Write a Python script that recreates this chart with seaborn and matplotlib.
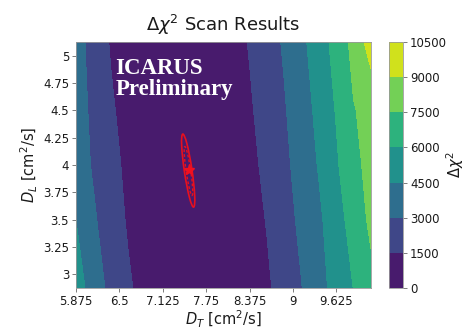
import numpy as np
import pandas as pd
import matplotlib
matplotlib.use("Agg")
import matplotlib.pyplot as plt
from matplotlib.patches import Ellipse
import seaborn as sns

# ---- data ----
dt_grid = [5.875, 6.125, 6.375, 6.625, 6.875, 7.125, 7.375, 7.625, 7.875,
           8.125, 8.375, 8.625, 8.875, 9.125, 9.375, 9.625, 9.875, 10.125]
dl_grid = [2.875, 3.5, 4.0, 4.5, 5.125]

chi2_dl_2875 = [5250, 3799, 2597, 1698, 978, 471, 147, 7, 49, 274, 682, 1272, 2092, 2962, 3996, 5019, 6030, 7100]
chi2_dl_3500 = [4490, 3193, 2221, 1348, 739, 312, 66, 2, 119, 417, 896, 1569, 2433, 3319, 4248, 5378, 6637, 7800]
chi2_dl_4000 = [3736, 2851, 1967, 1169, 603, 223, 28, 19, 194, 555, 1101, 1846, 2663, 3590, 4609, 5796, 7199, 7850]
chi2_dl_4500 = [3671, 2684, 1697, 963, 458, 139, 5, 56, 292, 714, 1321, 2091, 2877, 3831, 4886, 6101, 7426, 7950]
chi2_dl_5125 = [3585, 2452, 1380, 758, 320, 69, 2, 120, 424, 913, 1589, 2356, 3161, 4166, 5293, 6526, 7940, 9684]

levels = [0, 1500, 3000, 4500, 6000, 7500, 9000, 10500]
x_ticks = [5.875, 6.5, 7.125, 7.75, 8.375, 9, 9.625]
x_tick_labels = ["5.875", "6.5", "7.125", "7.75", "8.375", "9", "9.625"]
y_ticks = [3, 3.25, 3.5, 3.75, 4, 4.25, 4.5, 4.75, 5]
y_tick_labels = ["3", "3.25", "3.5", "3.75", "4", "4.25", "4.5", "4.75", "5"]

# best fit and confidence contours (centre D_T, centre D_L, length, width, angle)
best_fit = (7.50, 3.95)
ellipse_outer = (7.491, 3.949, 0.686, 0.11, -76.7)
ellipse_inner = (7.495, 3.945, 0.46, 0.065, -76.7)

# ---- plot ----
sns.set_style("ticks")
plt.rcParams["font.family"] = ["DejaVu Sans"]
plt.rcParams["text.color"] = "0.1"
plt.rcParams["xtick.color"] = "0.1"
plt.rcParams["ytick.color"] = "0.1"
plt.rcParams["axes.labelcolor"] = "0.1"

fig = plt.figure(figsize=(4.70, 3.31), dpi=100)
ax = fig.add_axes([0.1617, 0.1299, 0.7894 - 0.1617, 0.8731 - 0.1299])
cax = fig.add_axes([0.8277, 0.1299, 0.0298, 0.8731 - 0.1299])

Z = np.array([chi2_dl_2875, chi2_dl_3500, chi2_dl_4000, chi2_dl_4500, chi2_dl_5125])
cf = ax.contourf(dt_grid, dl_grid, Z, levels=levels, cmap="viridis")

ex, ey, el, ew, ea = ellipse_outer
ax.add_patch(Ellipse((ex, ey), el, ew, angle=ea, fill=False, edgecolor="#e8101e", lw=1.2))
ex, ey, el, ew, ea = ellipse_inner
ax.add_patch(Ellipse((ex, ey), el, ew, angle=ea, fill=False, edgecolor="#e8101e", lw=1.0, ls=(0, (2, 1.5))))
ax.plot([best_fit[0]], [best_fit[1]], marker="*", color="#f01020", markersize=8, mec="#f01020")

ax.set_xlim(dt_grid[0], dt_grid[-1])
ax.set_ylim(dl_grid[0], dl_grid[-1])
ax.set_xticks(x_ticks)
ax.set_xticklabels(x_tick_labels)
ax.set_yticks(y_ticks)
ax.set_yticklabels(y_tick_labels)
ax.tick_params(labelsize=8.5, length=3, width=0.6, color="0.4", pad=2)
for s in ax.spines.values():
    s.set_color("0.6")
    s.set_linewidth(0.6)

ax.set_xlabel(r"$D_T$ [cm$^2$/s]", fontsize=10.5, labelpad=1)
ax.set_ylabel(r"$D_L$ [cm$^2$/s]", fontsize=10.5, labelpad=2)
ax.set_title(r"$\Delta\chi^2$ Scan Results", fontsize=13, pad=8)

ax.text(0.133, 0.935, "ICARUS\nPreliminary", transform=ax.transAxes, ha="left", va="top",
        color="white", fontsize=16.5, fontweight="bold", family="Liberation Serif", linespacing=1.0)

cb = fig.colorbar(cf, cax=cax, ticks=levels)
cb.ax.tick_params(labelsize=8.5, length=3, width=0.6, color="0.4", pad=2)
cb.outline.set_edgecolor("0.6")
cb.outline.set_linewidth(0.6)
cb.set_label(r"$\Delta\chi^2$", fontsize=10.5)
cb.ax.yaxis.set_label_coords(3.95, 0.5)

fig.savefig("out.png", dpi=100)
